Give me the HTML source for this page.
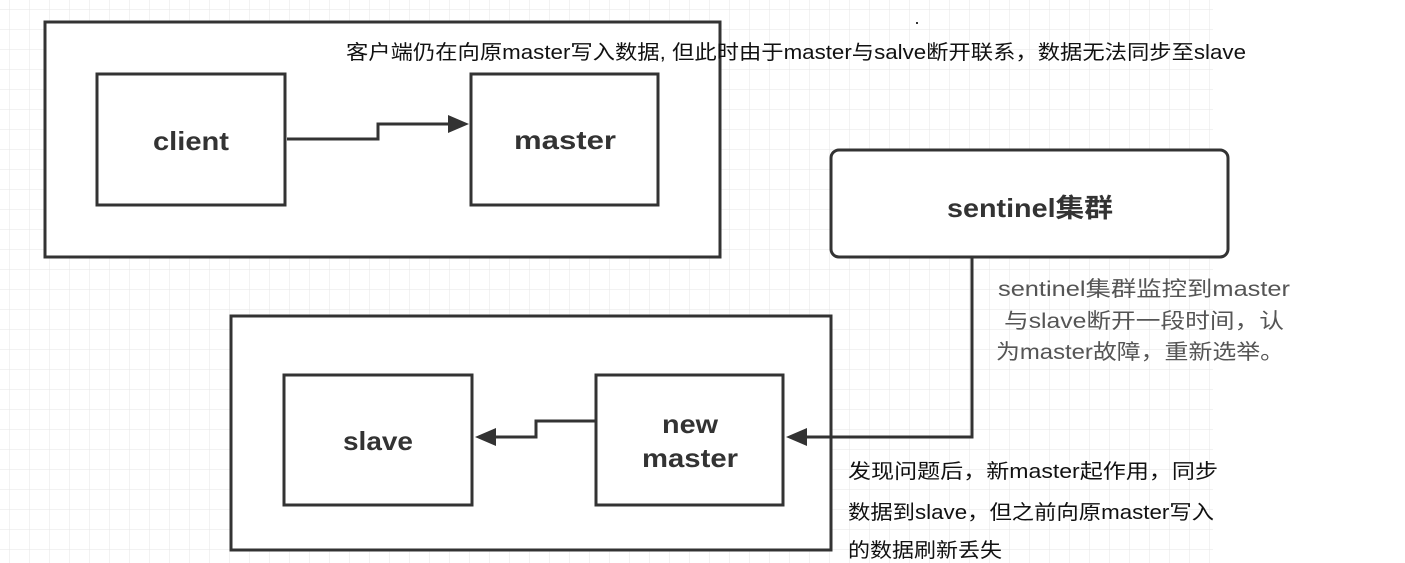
<!DOCTYPE html>
<html><head><meta charset="utf-8"><style>
html,body{margin:0;padding:0;background:#fff;}
svg{display:block;}
text{font-family:"Liberation Sans","Noto Sans CJK SC",sans-serif;}
</style></head><body>
<svg width="1405" height="563" viewBox="0 0 1405 563" xmlns="http://www.w3.org/2000/svg">
<defs>
<pattern id="g" width="20" height="20" patternUnits="userSpaceOnUse" x="10" y="10">
<path d="M20 0V20M0 20H20" stroke="#e6e6e6" stroke-width="1" fill="none"/>
</pattern>
</defs>
<rect x="0" y="0" width="1213" height="563" fill="url(#g)"/>
<g fill="#fff" stroke="#333" stroke-width="3">
<rect x="45" y="22" width="675" height="235"/>
<rect x="97" y="74" width="188" height="131"/>
<rect x="471" y="74" width="187" height="131"/>
<rect x="831" y="150" width="397" height="107" rx="8"/>
<rect x="231" y="316" width="600" height="234"/>
<rect x="284" y="375" width="188" height="130"/>
<rect x="596" y="375" width="187" height="130"/>
</g>
<g fill="none" stroke="#333" stroke-width="3">
<polyline points="287,139 378,139 378,124 450,124"/>
<polyline points="972,258 972,437 805,437"/>
<polyline points="596,421 536,421 536,437 494,437"/>
</g>
<g fill="#333">
<polygon points="469,124 448,115 448,133"/>
<polygon points="786,437 807,428 807,446"/>
<polygon points="475,437 496,428 496,446"/>
</g>
<g font-weight="bold" font-size="26" fill="#333" text-anchor="middle">
<text x="191" y="150" textLength="76" lengthAdjust="spacingAndGlyphs">client</text>
<text x="565" y="149" textLength="102" lengthAdjust="spacingAndGlyphs">master</text>
<text x="1030" y="217" textLength="166" lengthAdjust="spacingAndGlyphs">sentinel集群</text>
<text x="378" y="450" textLength="70" lengthAdjust="spacingAndGlyphs">slave</text>
<text x="690" y="433" textLength="56" lengthAdjust="spacingAndGlyphs">new</text>
<text x="690" y="467" textLength="96" lengthAdjust="spacingAndGlyphs">master</text>
</g>
<text x="346" y="59" font-size="20" fill="#111" textLength="900" lengthAdjust="spacingAndGlyphs">客户端仍在向原master写入数据, 但此时由于master与salve断开联系，数据无法同步至slave</text>
<g font-size="21" fill="#555">
<text x="998" y="296" textLength="292" lengthAdjust="spacingAndGlyphs">sentinel集群监控到master</text>
<text x="1004" y="328" textLength="280" lengthAdjust="spacingAndGlyphs">与slave断开一段时间，认</text>
<text x="996" y="359" textLength="288" lengthAdjust="spacingAndGlyphs">为master故障，重新选举。</text>
</g>
<g font-size="20" fill="#111">
<text x="848" y="478" textLength="370" lengthAdjust="spacingAndGlyphs">发现问题后，新master起作用，同步</text>
<text x="848" y="519" textLength="366" lengthAdjust="spacingAndGlyphs">数据到slave，但之前向原master写入</text>
<text x="848" y="557" textLength="154" lengthAdjust="spacingAndGlyphs">的数据刷新丢失</text>
</g>
<rect x="916" y="22" width="2" height="2" fill="#333"/>
</svg>
</body></html>
